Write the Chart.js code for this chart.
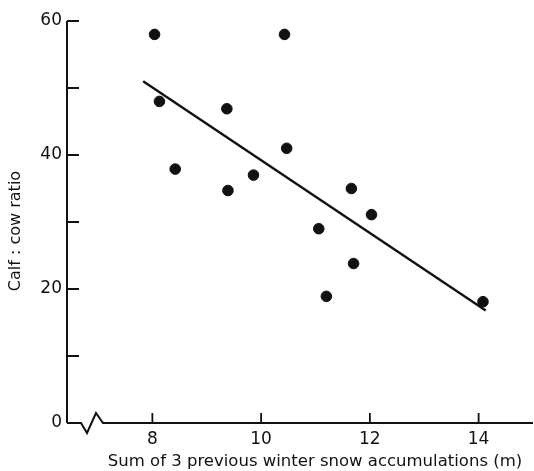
<!DOCTYPE html>
<html>
<head>
<meta charset="utf-8">
<script src="https://cdn.jsdelivr.net/npm/chart.js@4.4.0/dist/chart.umd.min.js"></script>
<style>
html, body { margin: 0; padding: 0; background: #fff; }
#wrap { width: 534px; height: 471px; }
</style>
</head>
<body>
<div id="wrap"><canvas id="chart"></canvas></div>
<script>
// snow accumulation (m) vs calf:cow ratio
const snowX = [8.04, 8.13, 8.42, 9.37, 9.39, 9.86, 10.43, 10.47, 11.06, 11.20, 11.66, 11.70, 12.03, 14.08];
const ratioY = [58.0, 48.0, 37.9, 46.9, 34.7, 37.0, 58.0, 41.0, 29.0, 18.9, 35.0, 23.8, 31.1, 18.1];
// regression line end points
const fitX = [7.83, 14.13];
const fitY = [51.0, 16.8];
const xTicks = [8, 10, 12, 14];
const yTicks = [0, 10, 20, 30, 40, 50, 60];
const yLabels = ['0', '', '20', '', '40', '', '60'];
const xTitle = 'Sum of 3 previous winter snow accumulations (m)';
const yTitle = 'Calf : cow ratio';

const FONT = 'DejaVu Sans';
const INK = '#111';

const points = snowX.map((x, i) => ({ x: x, y: ratioY[i] }));
const fitLine = fitX.map((x, i) => ({ x: x, y: fitY[i] }));

// axes drawn by hand: inward ticks and the broken x axis
const axesPlugin = {
    id: 'axes',
    afterDraw(chart) {
        const ctx = chart.ctx;
        const xs = chart.scales.x;
        const ys = chart.scales.y;
        const left = chart.chartArea.left;
        const right = chart.chartArea.right;
        const bottom = ys.getPixelForValue(0);
        const top = ys.getPixelForValue(60);

        ctx.save();
        ctx.strokeStyle = INK;
        ctx.lineWidth = 2;
        ctx.lineJoin = 'miter';

        ctx.beginPath();
        ctx.moveTo(left, top);
        ctx.lineTo(left, bottom);
        ctx.stroke();

        ctx.beginPath();
        ctx.moveTo(left, bottom);
        ctx.lineTo(left + 14, bottom);
        ctx.lineTo(left + 20, bottom + 10);
        ctx.lineTo(left + 29, bottom - 10);
        ctx.lineTo(left + 36, bottom);
        ctx.lineTo(right, bottom);
        ctx.stroke();

        ctx.lineWidth = 1.8;
        ctx.beginPath();
        yTicks.forEach(v => {
            if (v === 0) return;
            const py = ys.getPixelForValue(v);
            ctx.moveTo(left, py);
            ctx.lineTo(left + 12, py);
        });
        xTicks.forEach(v => {
            const px = xs.getPixelForValue(v);
            ctx.moveTo(px, bottom);
            ctx.lineTo(px, bottom - 10);
        });
        ctx.stroke();

        ctx.fillStyle = INK;
        ctx.font = '16.5px "' + FONT + '"';
        ctx.textAlign = 'center';
        ctx.textBaseline = 'middle';
        ctx.fillText(xTitle, 315, 462);

        ctx.translate(16, 231);
        ctx.rotate(-Math.PI / 2);
        ctx.font = '16px "' + FONT + '"';
        ctx.fillText(yTitle, 0, 0);
        ctx.restore();
    }
};

new Chart(document.getElementById('chart'), {
    type: 'scatter',
    data: {
        datasets: [{
            data: points,
            backgroundColor: INK,
            borderColor: INK,
            pointRadius: 5.3,
            pointHoverRadius: 5.3
        }, {
            type: 'line',
            data: fitLine,
            borderColor: INK,
            borderWidth: 2.4,
            pointRadius: 0,
            fill: false
        }]
    },
    options: {
        responsive: true,
        maintainAspectRatio: false,
        animation: false,
        events: [],
        layout: {
            autoPadding: false,
            padding: { top: 21, right: 1, left: 0, bottom: 0 }
        },
        plugins: {
            legend: { display: false },
            tooltip: { enabled: false }
        },
        scales: {
            x: {
                type: 'linear',
                min: 6.43,
                max: 15.0,
                afterBuildTicks: (scale) => {
                    scale.ticks = xTicks.map(v => ({ value: v }));
                },
                afterFit: (scale) => { scale.height = 48; },
                grid: { display: false, drawTicks: false },
                border: { display: false },
                ticks: {
                    padding: 6,
                    color: INK,
                    font: { family: FONT, size: 17 },
                    maxRotation: 0
                }
            },
            y: {
                type: 'linear',
                min: 0,
                max: 60,
                afterBuildTicks: (scale) => {
                    scale.ticks = yTicks.map(v => ({ value: v }));
                },
                afterFit: (scale) => { scale.width = 67; },
                grid: { display: false, drawTicks: false },
                border: { display: false },
                ticks: {
                    padding: 5,
                    color: INK,
                    font: { family: FONT, size: 17 },
                    callback: (value, index) => yLabels[index]
                }
            }
        }
    },
    plugins: [axesPlugin]
});
</script>
</body>
</html>
